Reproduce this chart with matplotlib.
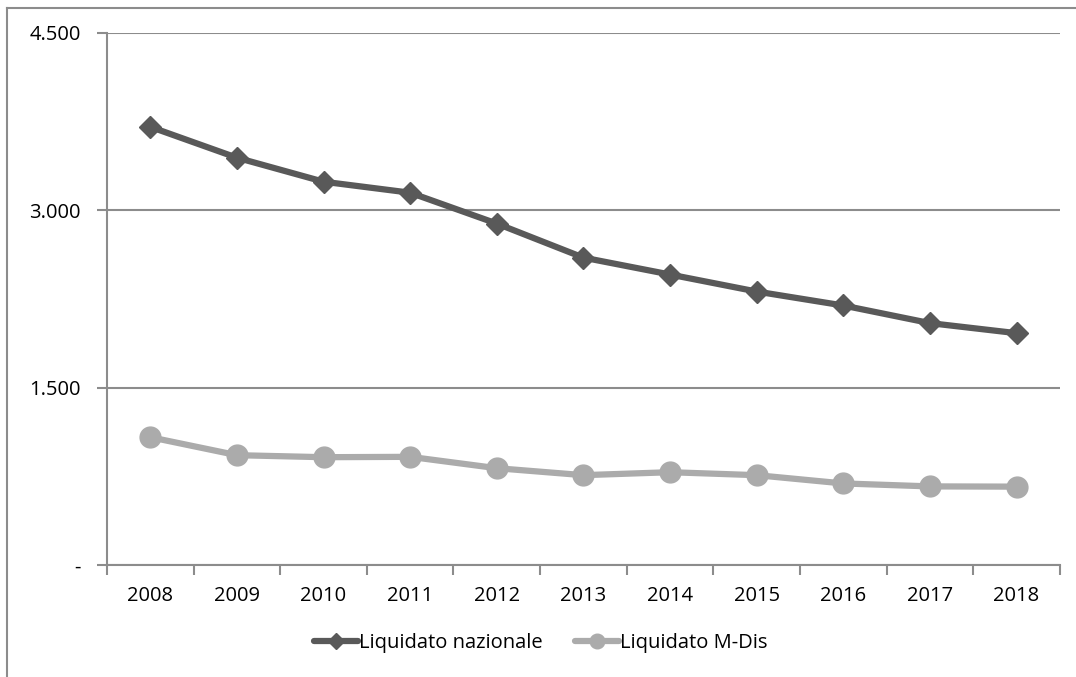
import matplotlib.pyplot as plt
from matplotlib.lines import Line2D
from matplotlib.ticker import FuncFormatter

years = ["2008", "2009", "2010", "2011", "2012", "2013", "2014", "2015", "2016", "2017", "2018"]
liquidato_nazionale = [3706, 3445, 3242, 3149, 2888, 2600, 2457, 2313, 2195, 2046, 1961]
liquidato_mdis = [1081, 929, 912, 915, 819, 760, 785, 760, 690, 665, 663]

DARK = "#595959"
LIGHT = "#ababab"
GRID = "#8c8c8c"

plt.rcParams["font.family"] = ["Open Sans", "DejaVu Sans"]

fig = plt.figure(figsize=(10.76, 6.77), dpi=100)
ax = fig.add_axes([0.0994, 0.1654, 0.8856, 0.7859])

x = list(range(len(years)))
ax.plot(x, liquidato_nazionale, color=DARK, lw=4.5, marker="D", ms=11,
        label="Liquidato nazionale", solid_capstyle="round")
ax.plot(x, liquidato_mdis, color=LIGHT, lw=4.5, marker="o", ms=15,
        label="Liquidato M-Dis", solid_capstyle="round")

ax.set_xlim(-0.5, len(years) - 0.5)
ax.set_ylim(0, 4500)
ax.set_yticks([0, 1500, 3000, 4500])
ax.yaxis.set_major_formatter(
    FuncFormatter(lambda v, _: "-" if v == 0 else f"{int(v):,}".replace(",", "."))
)
ax.set_xticks(x, labels=years)
ax.set_xticks([i - 0.5 for i in range(len(years) + 1)], minor=True)
ax.tick_params(axis="x", which="major", length=0, pad=15, labelsize=14.5)
ax.tick_params(axis="x", which="minor", length=7, width=1.5, color=GRID, direction="out")
ax.tick_params(axis="y", length=7, width=1.5, color=GRID, pad=12, labelsize=14.5)

ax.grid(axis="y", color=GRID, lw=1.5)
ax.set_axisbelow(True)
for side in ("top", "right"):
    ax.spines[side].set_visible(False)
for side in ("left", "bottom"):
    ax.spines[side].set_color(GRID)
    ax.spines[side].set_linewidth(1.5)

ax.legend(loc="center", bbox_to_anchor=(0.455, -0.147), ncol=2, frameon=False,
          fontsize=14.5, handlelength=2.2, handletextpad=0.05, columnspacing=1.6,
          markerscale=0.7)

# outer chart border (top and left edges visible)
fig.add_artist(Line2D([7 / 1076, 1.0], [1 - 8 / 677, 1 - 8 / 677],
                      transform=fig.transFigure, color="#8c8c8c", lw=1.5))
fig.add_artist(Line2D([7 / 1076, 7 / 1076], [0.0, 1 - 8 / 677],
                      transform=fig.transFigure, color="#8c8c8c", lw=1.5))

fig.savefig("out.png", dpi=100)
